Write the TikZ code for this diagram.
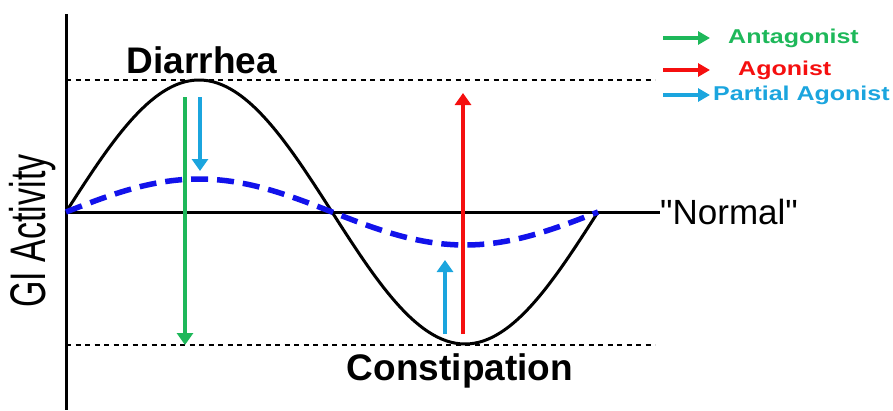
\documentclass[tikz,border=0pt]{standalone}
\usepackage{fontspec}
\setmainfont{Liberation Sans}
\newfontfamily\plainfont{Liberation Sans}[Ligatures=TeXOff]
\usepackage{tikz}
\usetikzlibrary{arrows.meta,positioning}
\definecolor{antagreen}{RGB}{30,184,90}
\definecolor{agored}{RGB}{245,15,15}
\definecolor{partblue}{RGB}{27,165,222}
\definecolor{curveblue}{RGB}{18,18,235}

\begin{document}
\begin{tikzpicture}[x=1pt, y=-1pt,
  axis/.style={line width=3pt, black},
  level/.style={line width=1.6pt, dash pattern=on 5pt off 4.5pt},
  arr/.style={-{Triangle[length=12pt, width=16pt]}, line width=4.5pt},
  keyarr/.style={-{Triangle[length=12pt, width=13pt]}, line width=4pt},
  title/.style={font=\bfseries\fontsize{37}{40}\selectfont, inner sep=0pt},
  key/.style={font=\bfseries\fontsize{20}{22}\selectfont, inner sep=0pt, anchor=west}]
\useasboundingbox (0,0) rectangle (893,410);
% axes and levels
\coordinate (origin) at (66,212);
\coordinate (ytop) at (66,14);
\coordinate (ybot) at (66,410);
\coordinate (peak) at (199,80);
\coordinate (trough) at (465,345);
\coordinate (hiend) at (655,80);
\coordinate (loend) at (655,345);
\node[anchor=base west, inner sep=0pt, font=\plainfont\fontsize{35}{38}\selectfont] (normal) at (660,224) {"Normal"};
\node[rotate=90, inner sep=0pt, font=\fontsize{50}{54}\selectfont] (gi) at (33,231) {\scalebox{0.68}[1]{GI Activity}};
\node[title, anchor=base] (diarrhea) at (202,73) {Diarrhea};
\node[title, anchor=base] (constipation) at (460,380) {Constipation};
\draw[axis] (ytop) -- (ybot);
\draw[axis] (origin) -- (normal.west |- origin);
\draw[level] (origin |- peak) -- (hiend);
\draw[level] (origin |- trough) -- (loend);
% activity curves
\draw[line width=3pt, line join=round] plot[domain=66:598, samples=120, smooth]
  (\x, {212-132*sin((\x-66)/266*180)});
\draw[curveblue, line width=5.5pt, dash pattern=on 17pt off 9pt] plot[domain=66:598, samples=120, smooth]
  (\x, {212-33*sin((\x-66)/266*180)});
% drug effects
\coordinate (g1) at (185,97);  \coordinate (g2) at (185,345);
\coordinate (b1) at (200,97);  \coordinate (b2) at (200,171);
\coordinate (r1) at (463,334); \coordinate (r2) at (463,93);
\coordinate (c1) at (445,334); \coordinate (c2) at (445,260);
\draw[arr, antagreen] (g1) -- (g2);
\draw[arr, partblue, line width=4pt] (b1) -- (b2);
\draw[arr, agored] (r1) -- (r2);
\draw[arr, partblue, line width=4pt] (c1) -- (c2);
% legend
\node[key, text=antagreen] (anta) at (728,38) {\scalebox{1.25}[1]{Antagonist}};
\node[key, text=agored] (ago) at (738,70) {\scalebox{1.25}[1]{Agonist}};
\node[key, text=partblue] (part) at (713,95) {\scalebox{1.25}[1]{Partial Agonist}};
\coordinate (ka) at (663,38);
\coordinate (kr) at (663,70);
\coordinate (kb) at (663,95);
\draw[keyarr, antagreen] (ka) -- (ka -| 710,0);
\draw[keyarr, agored] (kr) -- (kr -| 710,0);
\draw[keyarr, partblue] (kb) -- (kb -| 710,0);
\end{tikzpicture}
\end{document}
